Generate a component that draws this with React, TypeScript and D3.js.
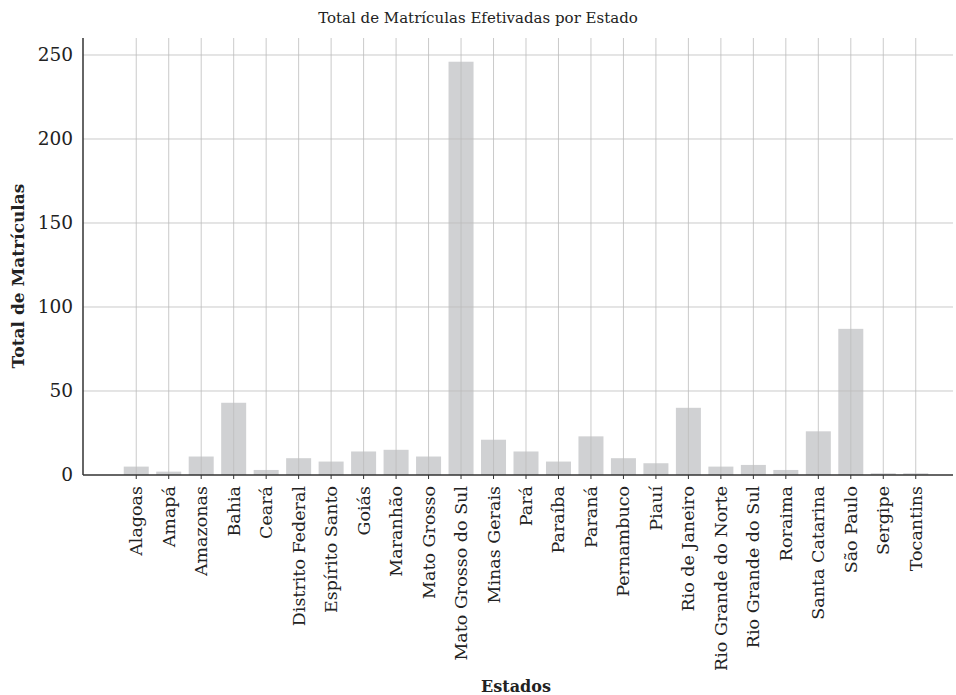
import React, { useEffect, useRef } from 'react';
import * as d3 from 'd3';

const estados = [
  'Alagoas', 'Amapá', 'Amazonas', 'Bahia', 'Ceará', 'Distrito Federal', 'Espírito Santo',
  'Goiás', 'Maranhão', 'Mato Grosso', 'Mato Grosso do Sul', 'Minas Gerais', 'Pará',
  'Paraíba', 'Paraná', 'Pernambuco', 'Piauí', 'Rio de Janeiro', 'Rio Grande do Norte',
  'Rio Grande do Sul', 'Roraima', 'Santa Catarina', 'São Paulo', 'Sergipe', 'Tocantins',
];
const matriculas = [5, 2, 11, 43, 3, 10, 8, 14, 15, 11, 246, 21, 14, 8, 23, 10, 7, 40, 5, 6, 3, 26, 87, 1, 1];
const yTicks = [0, 50, 100, 150, 200, 250];

const FONT = '"DejaVu Serif", serif';

const App: React.FC = () => {
  const ref = useRef<SVGSVGElement>(null);

  useEffect(() => {
    if (!ref.current) return;
    const svg = d3.select(ref.current);
    svg.selectAll('*').remove();

    const left = 83, right = 953, top = 38, bottom = 475;

    const x = d3.scaleBand().domain(estados).range([120, 932]).paddingInner(0.23).paddingOuter(0.115);
    const y = d3.scaleLinear().domain([0, 250]).range([bottom, 55]);

    const g = svg.append('g');

    // bars
    g.selectAll('rect.bar')
      .data(estados)
      .enter()
      .append('rect')
      .attr('class', 'bar')
      .attr('x', d => x(d) as number)
      .attr('width', x.bandwidth())
      .attr('y', (_, i) => y(matriculas[i]))
      .attr('height', (_, i) => bottom - y(matriculas[i]))
      .attr('fill', '#d0d1d3');

    // grid
    g.selectAll('line.hg')
      .data(yTicks.slice(1))
      .enter()
      .append('line')
      .attr('x1', left).attr('x2', right)
      .attr('y1', d => y(d)).attr('y2', d => y(d))
      .attr('stroke', '#bdbdbd').attr('stroke-opacity', 0.8).attr('stroke-width', 1);

    g.selectAll('line.vg')
      .data(estados)
      .enter()
      .append('line')
      .attr('x1', d => (x(d) as number) + x.bandwidth() / 2)
      .attr('x2', d => (x(d) as number) + x.bandwidth() / 2)
      .attr('y1', top).attr('y2', bottom)
      .attr('stroke', '#bdbdbd').attr('stroke-opacity', 0.8).attr('stroke-width', 1);

    // x axis
    const xAxis = g.append('g').attr('transform', `translate(0,${bottom})`);
    xAxis.append('line').attr('x1', left).attr('x2', right).attr('stroke', '#333').attr('stroke-width', 1.5);
    xAxis.selectAll('line.tk')
      .data(estados)
      .enter()
      .append('line')
      .attr('x1', d => (x(d) as number) + x.bandwidth() / 2)
      .attr('x2', d => (x(d) as number) + x.bandwidth() / 2)
      .attr('y1', 0).attr('y2', 4)
      .attr('stroke', '#333');
    xAxis.selectAll('text')
      .data(estados)
      .enter()
      .append('text')
      .attr('transform', d => `translate(${(x(d) as number) + x.bandwidth() / 2 + 6},11) rotate(-90)`)
      .attr('text-anchor', 'end')
      .attr('font-family', FONT)
      .attr('font-size', 17.5)
      .attr('fill', '#222')
      .text(d => d);

    // y axis
    const yAxis = g.append('g');
    yAxis.append('line').attr('x1', left).attr('x2', left).attr('y1', top).attr('y2', bottom)
      .attr('stroke', '#333').attr('stroke-width', 1.5);
    yAxis.selectAll('text')
      .data(yTicks)
      .enter()
      .append('text')
      .attr('x', 73)
      .attr('y', d => y(d))
      .attr('dy', '0.35em')
      .attr('text-anchor', 'end')
      .attr('font-family', FONT)
      .attr('font-size', 18.5)
      .attr('fill', '#222')
      .text(d => d);

    // titles
    svg.append('text')
      .attr('x', 478).attr('y', 23)
      .attr('text-anchor', 'middle')
      .attr('font-family', FONT).attr('font-size', 15).attr('fill', '#222')
      .text('Total de Matrículas Efetivadas por Estado');

    svg.append('text')
      .attr('transform', 'translate(24,276) rotate(-90)')
      .attr('text-anchor', 'middle')
      .attr('font-family', FONT).attr('font-size', 17).attr('font-weight', 'bold').attr('fill', '#222')
      .text('Total de Matrículas');

    svg.append('text')
      .attr('x', 516).attr('y', 692)
      .attr('text-anchor', 'middle')
      .attr('font-family', FONT).attr('font-size', 16).attr('font-weight', 'bold').attr('fill', '#222')
      .text('Estados');
  }, []);

  return (
    <svg
      ref={ref}
      width={956}
      height={695}
      style={{ position: 'absolute', left: 0, top: 0, background: '#fff' }}
    />
  );
};

export default App;
